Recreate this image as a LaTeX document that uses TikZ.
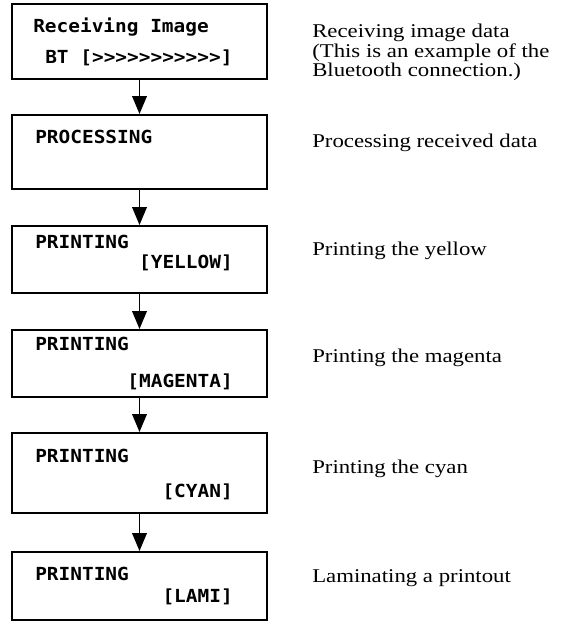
\documentclass[tikz,border=0pt]{standalone}
\usepackage{fontspec}
\setmainfont{Liberation Serif}
\newfontfamily\lcdfont[FakeStretch=1.08]{DejaVu Sans Mono Bold}
\newfontfamily\descfont[FakeStretch=1.17]{Liberation Serif}
\usetikzlibrary{arrows.meta}
\begin{document}
\begin{tikzpicture}[x=0.75pt,y=-0.75pt,
  box/.style={draw, line width=1.5pt, minimum width=191.25pt, inner sep=0pt},
  lcdtext/.style={inner sep=0pt, font=\lcdfont\fontsize{13.5pt}{16pt}\selectfont},
  desctext/.style={inner sep=0pt, anchor=base west, font=\descfont\fontsize{14.6pt}{12.5pt}\selectfont},
  arr/.style={line width=1.3pt, -{Triangle[width=11pt,length=13.5pt]}}]
\useasboundingbox (0,0) rectangle (562,622);

% boxes
\node[box, minimum height=56.25pt] (b1) at (139.5,41.5) {};
\node[box, minimum height=55.5pt]  (b2) at (139.5,152) {};
\node[box, minimum height=50.25pt] (b3) at (139.5,259.5) {};
\node[box, minimum height=50.25pt] (b4) at (139.5,363.5) {};
\node[box, minimum height=60pt]    (b5) at (139.5,473) {};
\node[box, minimum height=51pt]    (b6) at (139.5,586) {};

% display texts
\node[lcdtext, anchor=base west] (t1a) at (33,32) {Receiving Image};
\node[lcdtext, anchor=base west] (t1b) at (45,63) {BT [>>>>>>>>>>>]};
\node[lcdtext, anchor=base west] (t2) at (35,143) {PROCESSING};
\node[lcdtext, anchor=base west] (t3a) at (35,248) {PRINTING};
\node[lcdtext, anchor=base east] (t3b) at (233,268) {[YELLOW]};
\node[lcdtext, anchor=base west] (t4a) at (35,350) {PRINTING};
\node[lcdtext, anchor=base east] (t4b) at (233,387) {[MAGENTA]};
\node[lcdtext, anchor=base west] (t5a) at (35,462) {PRINTING};
\node[lcdtext, anchor=base east] (t5b) at (233,497) {[CYAN]};
\node[lcdtext, anchor=base west] (t6a) at (35,580) {PRINTING};
\node[lcdtext, anchor=base east] (t6b) at (233,602) {[LAMI]};

% arrows
\draw[arr] (b1.south) -- (b2.north);
\draw[arr] (b2.south) -- (b3.north);
\draw[arr] (b3.south) -- (b4.north);
\draw[arr] (b4.south) -- (b5.north);
\draw[arr] (b5.south) -- (b6.north);

% descriptions
\node[inner sep=0pt, anchor=north west, align=left,
      font=\descfont\fontsize{14.6pt}{12.6pt}\selectfont] (d1) at (312,23)
  {\rule{0pt}{11pt}Receiving image data\\(This is an example of the\\Bluetooth connection.)};
\node[desctext] (d2) at (312,147) {Processing received data};
\node[desctext] (d3) at (312,255) {Printing the yellow};
\node[desctext] (d4) at (312,362) {Printing the magenta};
\node[desctext] (d5) at (312,473) {Printing the cyan};
\node[desctext] (d6) at (312,582) {Laminating a printout};
\end{tikzpicture}
\end{document}
